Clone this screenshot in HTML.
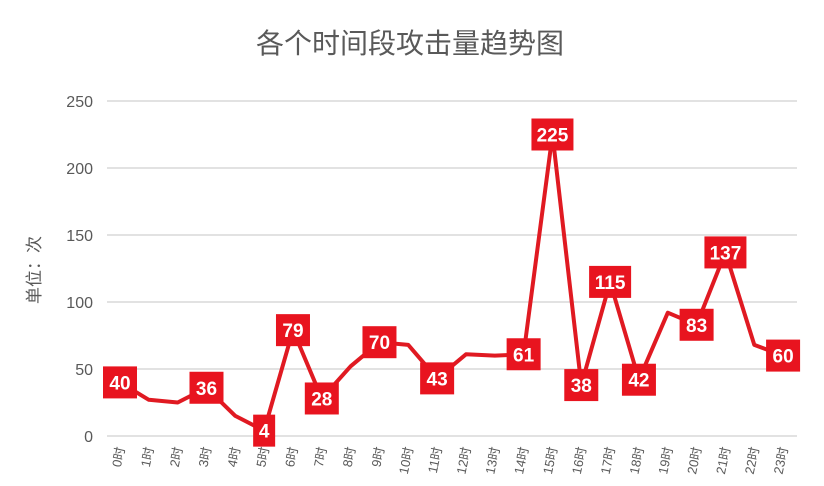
<!DOCTYPE html>
<html><head><meta charset="utf-8"><style>
html,body{margin:0;padding:0;background:#fff;}
svg{display:block;font-family:"Liberation Sans","Noto Sans CJK SC",sans-serif;}
</style></head><body>
<svg width="824" height="486" viewBox="0 0 824 486">
<rect width="824" height="486" fill="#fff"/>
<text x="410" y="53" text-anchor="middle" font-size="28" fill="#595959">各个时间段攻击量趋势图</text>
<text transform="translate(40,270) rotate(-90)" text-anchor="middle" font-size="17" fill="#595959">单位：次</text>
<g stroke="#d9d9d9" stroke-width="1.5">
<line x1="107" x2="797" y1="101" y2="101"/><line x1="107" x2="797" y1="168" y2="168"/>
<line x1="107" x2="797" y1="235" y2="235"/><line x1="107" x2="797" y1="302" y2="302"/>
<line x1="107" x2="797" y1="369" y2="369"/><line x1="107" x2="797" y1="436" y2="436"/>
</g>
<g font-size="16" fill="#595959" text-anchor="end">
<text x="93" y="107">250</text><text x="93" y="174">200</text><text x="93" y="241">150</text>
<text x="93" y="308">100</text><text x="93" y="375">50</text><text x="93" y="442">0</text>
</g>
<g id="xl" font-size="13" fill="#595959" text-anchor="end"></g>
<polyline id="ln" fill="none" stroke="#e01a22" stroke-width="4" stroke-linejoin="round"/>
<g id="lb"></g>
</svg>
<script>
var d=[40,27,25,36,15,4,79,28,52,70,68,43,61,60,61,225,38,115,42,92,83,137,68,60];
var lab={0:1,3:1,5:1,6:1,7:1,9:1,11:1,14:1,15:1,16:1,17:1,18:1,20:1,21:1,23:1};
var ns="http://www.w3.org/2000/svg",pts=[],xl=document.getElementById('xl'),lb=document.getElementById('lb');
for(var i=0;i<24;i++){var x=120+i*28.83,y=436-d[i]*1.34;pts.push(x.toFixed(1)+","+y.toFixed(1));
var t=document.createElementNS(ns,'text');t.setAttribute('transform','translate('+(x+5)+',448) rotate(-78)');t.textContent=i+'时';xl.appendChild(t);
if(lab[i]){var s=String(d[i]),w=s.length==1?22:(s.length==2?34:42);
var r=document.createElementNS(ns,'rect');r.setAttribute('x',x-w/2);r.setAttribute('y',y-16);r.setAttribute('width',w);r.setAttribute('height',32);r.setAttribute('fill','#e8141f');lb.appendChild(r);
var tt=document.createElementNS(ns,'text');tt.setAttribute('x',x);tt.setAttribute('y',y+7);tt.setAttribute('text-anchor','middle');tt.setAttribute('font-size','19');tt.setAttribute('font-weight','bold');tt.setAttribute('fill','#fff');tt.textContent=s;lb.appendChild(tt);}}
document.getElementById('ln').setAttribute('points',pts.join(' '));
</script>
</body></html>
